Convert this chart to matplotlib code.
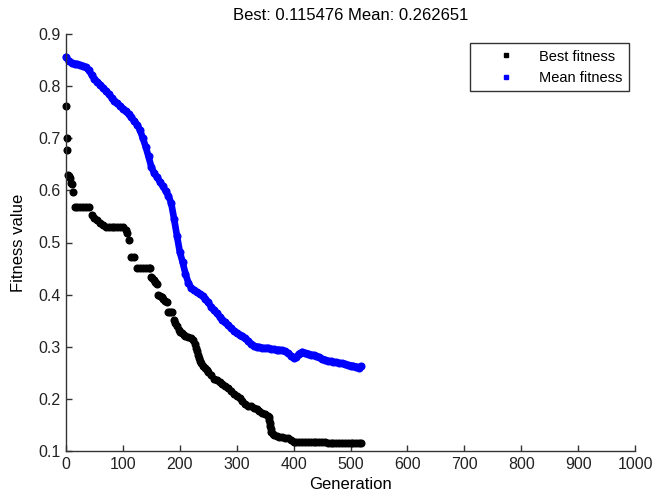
import matplotlib
matplotlib.use("Agg")
import matplotlib.pyplot as plt
from matplotlib.lines import Line2D

plt.rcParams['font.family'] = ['Liberation Sans', 'DejaVu Sans']

title_text = "Best: 0.115476 Mean: 0.262651"
x_label = "Generation"
y_label = "Fitness value"
legend_labels = ["Best fitness", "Mean fitness"]

best_gen = [0, 1, 2, 3, 5, 7, 9, 11, 13, 15, 20, 25, 30, 35, 40, 45, 50, 55, 60, 65,
            70, 75, 80, 85, 90, 95, 100, 105, 107, 110, 115, 120, 125, 130, 135, 140,
            145, 148, 150, 152, 154, 156, 158, 160, 162, 165, 168, 171, 174, 177, 180,
            183, 186, 189, 192, 195, 198, 201, 204, 207, 210, 215, 220, 223, 226, 228,
            230, 232, 234, 236, 238, 241, 244, 247, 250, 255, 260, 265, 270, 275, 280,
            285, 290, 295, 300, 305, 310, 315, 320, 325, 330, 335, 340, 345, 350, 355,
            356, 357, 358, 359, 360, 361, 363, 365, 370, 375, 380, 385, 390, 395, 400,
            405, 410, 415, 420, 425, 430, 435, 440, 445, 450, 455, 460, 465, 470, 475,
            480, 485, 490, 495, 500, 505, 510, 515, 518]
best_val = [0.762, 0.700, 0.678, 0.629, 0.627, 0.624, 0.615, 0.612, 0.597, 0.569, 0.569,
            0.569, 0.569, 0.569, 0.569, 0.552, 0.547, 0.543, 0.537, 0.534, 0.530, 0.530,
            0.530, 0.530, 0.530, 0.530, 0.530, 0.524, 0.518, 0.505, 0.473, 0.473, 0.452,
            0.452, 0.452, 0.452, 0.452, 0.452, 0.434, 0.432, 0.428, 0.424, 0.422, 0.420,
            0.399, 0.397, 0.395, 0.392, 0.388, 0.386, 0.367, 0.367, 0.366, 0.351, 0.345,
            0.339, 0.333, 0.329, 0.326, 0.323, 0.320, 0.318, 0.316, 0.313, 0.305, 0.298,
            0.292, 0.285, 0.278, 0.272, 0.268, 0.264, 0.259, 0.255, 0.252, 0.246, 0.239,
            0.236, 0.233, 0.228, 0.224, 0.220, 0.215, 0.210, 0.206, 0.201, 0.196, 0.190,
            0.187, 0.186, 0.183, 0.181, 0.176, 0.173, 0.171, 0.168, 0.165, 0.160, 0.154,
            0.148, 0.142, 0.136, 0.132, 0.130, 0.128, 0.127, 0.126, 0.125, 0.124, 0.121,
            0.118, 0.118, 0.118, 0.118, 0.118, 0.118, 0.118, 0.118, 0.118, 0.118, 0.118,
            0.118, 0.1155, 0.1155, 0.1155, 0.1155, 0.1155, 0.1155, 0.1155, 0.1155,
            0.1155, 0.1155, 0.1155, 0.1155, 0.115476]

mean_gen = list(range(0, 520, 5)) + [518]
mean_val = [0.856, 0.848, 0.845, 0.843, 0.842, 0.840, 0.838, 0.836, 0.830, 0.822,
            0.814, 0.808, 0.803, 0.797, 0.791, 0.785, 0.778, 0.772, 0.767, 0.762,
            0.757, 0.752, 0.746, 0.740, 0.733, 0.726, 0.716, 0.700, 0.684, 0.665,
            0.645, 0.633, 0.625, 0.617, 0.608, 0.599, 0.590, 0.575, 0.545, 0.513,
            0.482, 0.462, 0.440, 0.423, 0.413, 0.408, 0.405, 0.402, 0.398, 0.391,
            0.385, 0.377, 0.370, 0.364, 0.358, 0.352, 0.347, 0.341, 0.336, 0.331,
            0.327, 0.323, 0.320, 0.316, 0.311, 0.306, 0.302, 0.300, 0.299, 0.298,
            0.297, 0.298, 0.296, 0.295, 0.294, 0.294, 0.293, 0.291, 0.288, 0.283,
            0.278, 0.281, 0.287, 0.290, 0.288, 0.287, 0.285, 0.284, 0.282, 0.280,
            0.277, 0.275, 0.273, 0.272, 0.271, 0.270, 0.269, 0.268, 0.267, 0.265,
            0.264, 0.263, 0.262, 0.260, 0.2627]

x_ticks = [0, 100, 200, 300, 400, 500, 600, 700, 800, 900, 1000]
y_ticks = [0.1, 0.2, 0.3, 0.4, 0.5, 0.6, 0.7, 0.8, 0.9]

BLUE = '#0000ff'

fig = plt.figure(figsize=(6.54, 4.96), dpi=100)
ax = fig.add_axes([66/654, 45/496, (635-66)/654, (451-34)/496])

ax.plot(mean_gen, mean_val, linestyle='-', lw=4.8, color=BLUE,
        solid_capstyle='round', solid_joinstyle='round', marker='o', ms=4.8,
        mec=BLUE, clip_on=False)
ax.plot(best_gen, best_val, linestyle='none', marker='o', ms=4.8, color='black',
        mec='black', clip_on=False)

ax.set_xlim(0, 1000)
ax.set_ylim(0.1, 0.9)
ax.set_xticks(x_ticks)
ax.set_yticks(y_ticks)
ax.set_xticklabels([str(t) for t in x_ticks])
ax.set_yticklabels([f"{t:.1f}" for t in y_ticks])
ax.spines['top'].set_visible(False)
ax.spines['right'].set_visible(False)
for s in ('left', 'bottom'):
    ax.spines[s].set_color('#333333')
    ax.spines[s].set_linewidth(1.0)
ax.tick_params(direction='in', length=4, width=1, color='#333333',
               labelsize=11.5, labelcolor='#222222', pad=4)

ax.set_title(title_text, fontsize=12, pad=10)
ax.set_xlabel(x_label, fontsize=12, labelpad=4)
ax.set_ylabel(y_label, fontsize=12, labelpad=9)

handles = [Line2D([], [], linestyle='none', marker='s', ms=3.5, color='black'),
           Line2D([], [], linestyle='none', marker='s', ms=3.5, color=BLUE)]
leg = ax.legend(handles, legend_labels, loc='upper right',
                bbox_to_anchor=(629/654, 1 - 43/496), borderaxespad=0,
                bbox_transform=fig.transFigure, fontsize=10.5, frameon=True,
                fancybox=False, borderpad=0.45, handletextpad=0.2,
                handlelength=4.1, labelspacing=0.5)
leg.get_frame().set_edgecolor('black')
leg.get_frame().set_linewidth(1.0)

fig.savefig("out.png", dpi=100)
